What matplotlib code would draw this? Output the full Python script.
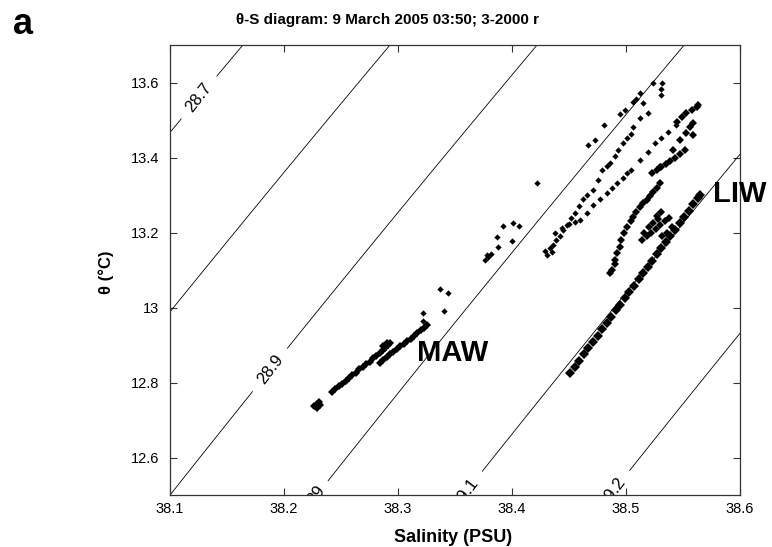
import matplotlib.pyplot as plt
import numpy as np

plt.rcParams['font.family'] = ['Liberation Sans', 'DejaVu Sans']

# isopycnal levels (sigma-theta)
levels = [28.7, 28.8, 28.9, 29.0, 29.1, 29.2]

# MAW streak (near-surface water)
maw_sal = [38.226, 38.229, 38.231, 38.229, 38.232,
           38.242, 38.245, 38.248, 38.251, 38.254, 38.257, 38.260, 38.263, 38.266, 38.269,
           38.272, 38.275, 38.278, 38.281, 38.284, 38.287, 38.289, 38.291, 38.293, 38.287, 38.290,
           38.284, 38.287, 38.290, 38.293, 38.296, 38.299, 38.302, 38.305, 38.308, 38.311,
           38.314, 38.317, 38.320, 38.323, 38.325]
maw_theta = [12.737, 12.742, 12.747, 12.733, 12.740,
             12.775, 12.783, 12.790, 12.796, 12.805, 12.812, 12.820, 12.826, 12.835, 12.842,
             12.848, 12.856, 12.864, 12.870, 12.878, 12.886, 12.893, 12.899, 12.905, 12.898, 12.906,
             12.852, 12.860, 12.868, 12.875, 12.881, 12.889, 12.896, 12.903, 12.910, 12.917,
             12.924, 12.931, 12.939, 12.946, 12.953]

# scattered single samples
sparse_sal = [38.322, 38.322, 38.337, 38.344, 38.340,
              38.376, 38.379, 38.382, 38.378, 38.387, 38.388, 38.392, 38.400, 38.401, 38.406, 38.422,
              38.467, 38.473, 38.481, 38.495, 38.499, 38.506, 38.509, 38.512, 38.515, 38.524,
              38.532, 38.531, 38.531]
sparse_theta = [12.963, 12.985, 13.049, 13.038, 12.991,
                13.128, 13.135, 13.142, 13.140, 13.189, 13.161, 13.217, 13.178, 13.225, 13.217, 13.333,
                13.433, 13.447, 13.487, 13.515, 13.527, 13.548, 13.556, 13.572, 13.545, 13.598,
                13.598, 13.582, 13.567]

# upper dotted branches
chain_a_sal = [38.429, 38.431, 38.433, 38.435, 38.436, 38.439, 38.442, 38.445, 38.448, 38.452,
               38.455, 38.459, 38.462, 38.466, 38.471, 38.475, 38.479, 38.483, 38.486, 38.490,
               38.493, 38.497, 38.501, 38.504, 38.506, 38.512, 38.519]
chain_a_theta = [13.150, 13.140, 13.158, 13.147, 13.168, 13.180, 13.190, 13.207, 13.220, 13.240,
                 13.252, 13.270, 13.290, 13.300, 13.313, 13.340, 13.367, 13.378, 13.385, 13.405,
                 13.420, 13.438, 13.452, 13.462, 13.481, 13.505, 13.518]
chain_b_sal = [38.438, 38.444, 38.450, 38.455, 38.460, 38.466, 38.471, 38.477, 38.483, 38.488,
               38.492, 38.497, 38.501, 38.504, 38.512, 38.519, 38.525, 38.531, 38.537, 38.544]
chain_b_theta = [13.200, 13.212, 13.222, 13.228, 13.233, 13.252, 13.273, 13.290, 13.305, 13.320,
                 13.332, 13.345, 13.358, 13.367, 13.393, 13.415, 13.438, 13.452, 13.468, 13.487]

# loop, blob and dense upper branch around LIW
loop_sal = [38.486, 38.488, 38.490, 38.490, 38.492, 38.495, 38.496, 38.498, 38.501, 38.504,
            38.506, 38.509, 38.512, 38.515, 38.518, 38.521, 38.524, 38.527, 38.530,
            38.523, 38.527, 38.531, 38.535, 38.539, 38.543, 38.547, 38.552,
            38.530, 38.541, 38.547, 38.553, 38.559,
            38.545, 38.549, 38.553, 38.556, 38.559, 38.558, 38.562, 38.563,
            38.514, 38.518, 38.522, 38.526, 38.530, 38.534, 38.538, 38.516, 38.520, 38.524,
            38.528, 38.532, 38.536, 38.540, 38.527, 38.531]
loop_theta = [13.092, 13.100, 13.115, 13.127, 13.145, 13.162, 13.180, 13.198, 13.215, 13.230,
              13.241, 13.255, 13.268, 13.278, 13.287, 13.298, 13.308, 13.320, 13.332,
              13.358, 13.366, 13.374, 13.383, 13.392, 13.400, 13.410, 13.420,
              13.375, 13.420, 13.447, 13.465, 13.460,
              13.495, 13.508, 13.518, 13.480, 13.492, 13.527, 13.535, 13.540,
              13.180, 13.190, 13.200, 13.210, 13.220, 13.230, 13.240, 13.200, 13.215, 13.225,
              13.235, 13.190, 13.200, 13.215, 13.245, 13.255]

# LIW core: long dense lower branch
liw_sal = [38.451, 38.455, 38.459, 38.463, 38.467, 38.471, 38.475, 38.479, 38.483, 38.487,
           38.491, 38.495, 38.499, 38.503, 38.507, 38.511, 38.515, 38.519, 38.523, 38.527,
           38.531, 38.535, 38.539, 38.543, 38.547, 38.551, 38.555, 38.559, 38.563, 38.565]
liw_theta = [12.825, 12.842, 12.858, 12.875, 12.892, 12.908, 12.925, 12.942, 12.958, 12.975,
             12.992, 13.008, 13.025, 13.042, 13.058, 13.075, 13.092, 13.108, 13.125, 13.142,
             13.158, 13.175, 13.192, 13.208, 13.225, 13.242, 13.258, 13.275, 13.292, 13.300]

x_ticks = [38.1, 38.2, 38.3, 38.4, 38.5, 38.6]
y_ticks = [12.6, 12.8, 13.0, 13.2, 13.4, 13.6]
y_tick_labels = ['12.6', '12.8', '13', '13.2', '13.4', '13.6']


def sigma0(S, T):
    # UNESCO EOS-80 density at surface pressure, minus 1000
    rw = (999.842594 + 6.793952e-2 * T - 9.095290e-3 * T**2 + 1.001685e-4 * T**3
          - 1.120083e-6 * T**4 + 6.536332e-9 * T**5)
    a = 0.824493 - 4.0899e-3 * T + 7.6438e-5 * T**2 - 8.2467e-7 * T**3 + 5.3875e-9 * T**4
    b = -5.72466e-3 + 1.0227e-4 * T - 1.6546e-6 * T**2
    return rw + a * S + b * S**1.5 + 4.8314e-4 * S**2 - 1000.0


fig = plt.figure(figsize=(7.72, 5.47), dpi=100)
ax = fig.add_axes([170 / 772, 1 - 495 / 547, 570 / 772, 450 / 547])

SS, TT = np.meshgrid(np.linspace(38.0, 38.7, 300), np.linspace(12.3, 13.9, 300))
cs = ax.contour(SS, TT, sigma0(SS, TT), levels=levels, colors='k', linewidths=0.6)
ax.clabel(cs, inline=True, inline_spacing=4, fontsize=12, fmt=lambda v: f'{v:g}',
          manual=[(38.125, 13.561), (38.188, 12.833), (38.226, 12.505),
                  (38.359, 12.505), (38.489, 12.505)])
for t in cs.labelTexts:
    t.set_clip_box(ax.bbox)
    t.set_clip_on(True)

ax.plot(maw_sal, maw_theta, 'D', color='k', ms=3.8, mew=0)
ax.plot(sparse_sal, sparse_theta, 'D', color='k', ms=3.2, mew=0)
ax.plot(chain_a_sal, chain_a_theta, 'D', color='k', ms=3.2, mew=0)
ax.plot(chain_b_sal, chain_b_theta, 'D', color='k', ms=3.2, mew=0)
ax.plot(loop_sal, loop_theta, 'D', color='k', ms=4.4, mew=0)
ax.plot(liw_sal, liw_theta, 'D', color='k', ms=5.5, mew=0)

ax.text(38.317, 12.879, 'MAW', fontsize=21, fontweight='bold', ha='left', va='center')
ax.text(38.576, 13.303, 'LIW', fontsize=21, fontweight='bold', ha='left', va='center',
        clip_on=False)

ax.set_xlim(38.1, 38.6)
ax.set_ylim(12.5, 13.7)
ax.set_xticks(x_ticks)
ax.set_xticklabels([f'{v:g}' for v in x_ticks])
ax.set_yticks(y_ticks)
ax.set_yticklabels(y_tick_labels)
ax.tick_params(direction='in', top=True, right=True, length=5, width=0.8,
               color='#333333', labelsize=10.5)
ax.tick_params(axis='x', pad=5)
ax.tick_params(axis='y', pad=8)
for sp in ax.spines.values():
    sp.set_color('#333333')
    sp.set_linewidth(0.9)

fig.text(387 / 772, 1 - 20 / 547, 'θ-S diagram: 9 March 2005 03:50; 3-2000 r',
         fontsize=11, fontweight='bold', ha='center', va='center')
fig.text(453 / 772, 1 - 538 / 547, 'Salinity (PSU)', fontsize=13, fontweight='bold',
         ha='center', va='center')
fig.text(106 / 772, 1 - 272 / 547, 'θ (°C)', fontsize=12, fontweight='bold',
         rotation=90, ha='center', va='center')
fig.text(23 / 772, 1 - 24 / 547, 'a', fontsize=26, fontweight='bold', ha='center', va='center')

fig.savefig('out.png', dpi=100)
